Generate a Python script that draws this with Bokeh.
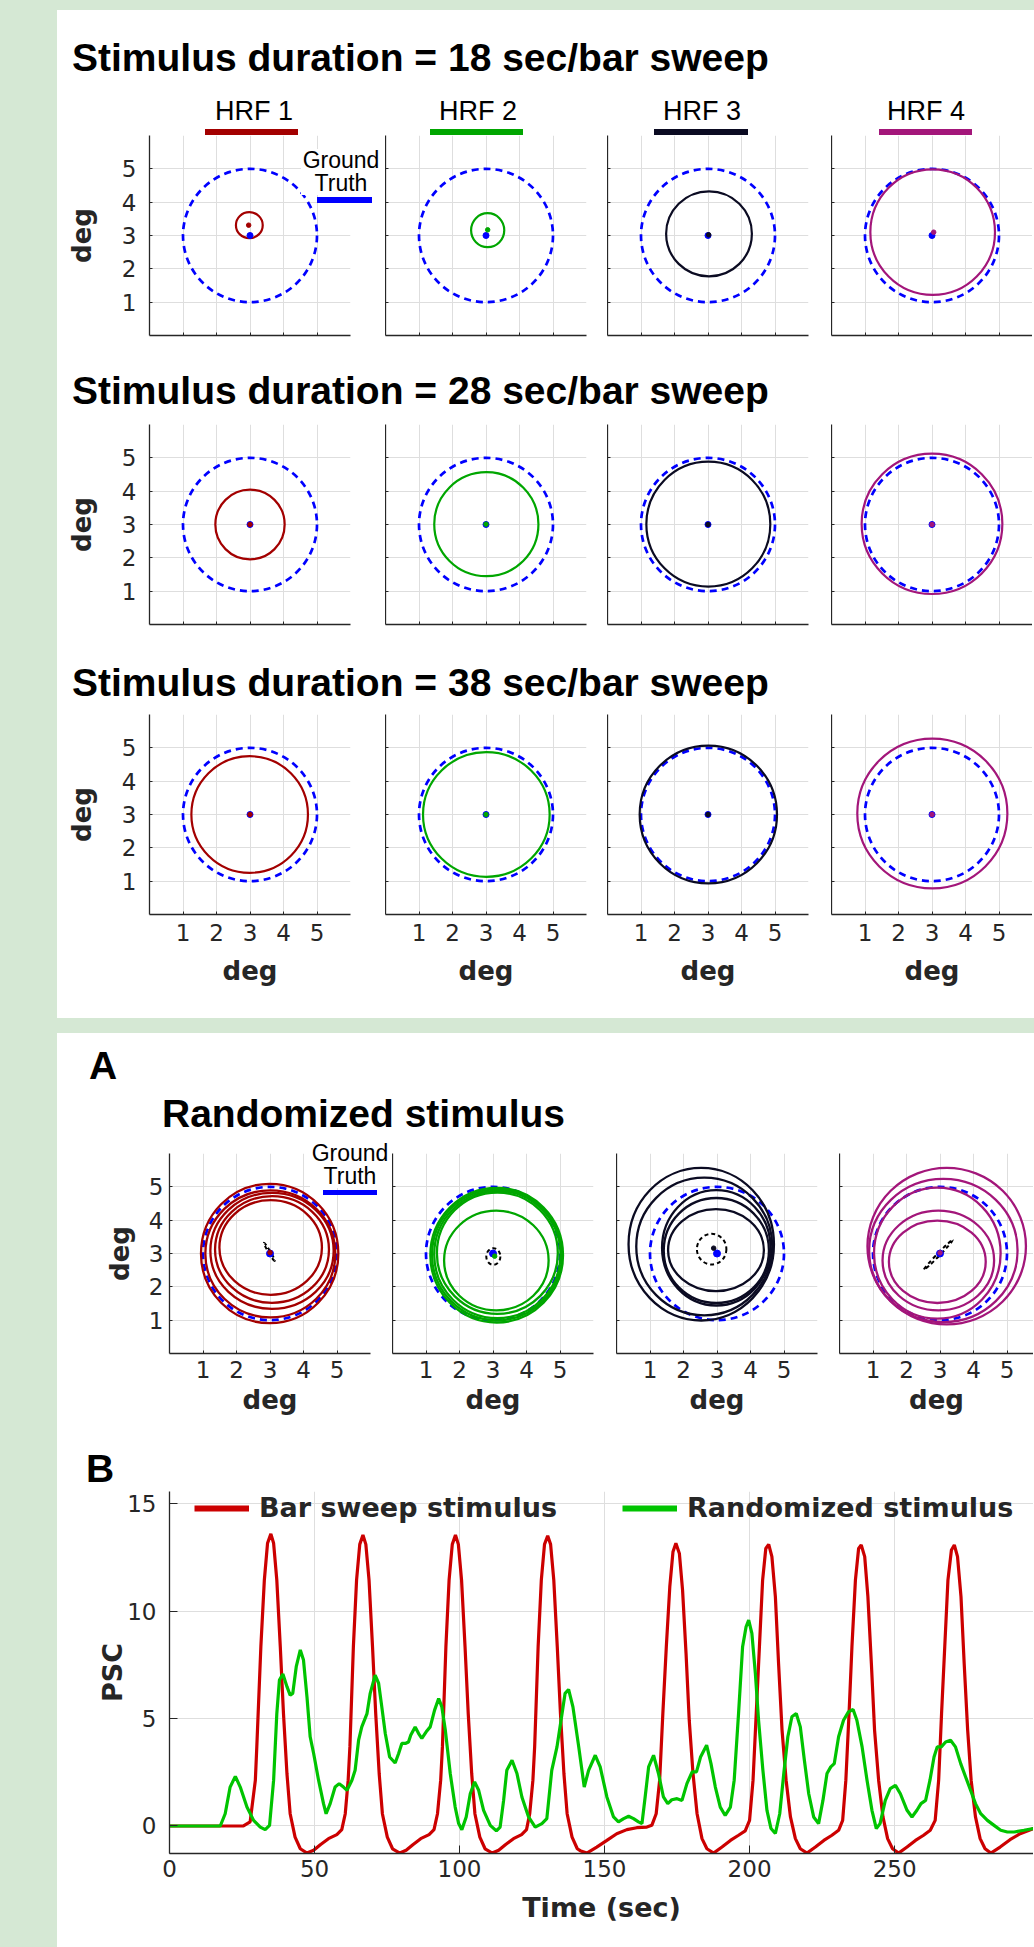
from bokeh.plotting import figure
from bokeh.models import (Range1d, FixedTicker, Legend, LegendItem, Div,
                          Spacer, Row, Column)
from bokeh.embed import file_html
from bokeh.resources import INLINE

# ---------------------------------------------------------------- data
hrf_names = ["HRF 1", "HRF 2", "HRF 3", "HRF 4"]
hrf_colors = ["#A30000", "#00A600", "#0B0B22", "#A3167A"]
gt_color = "#0000FF"
gt_label = ["Ground", "Truth"]
gt_cx, gt_cy, gt_diam = 3.0, 3.0, 4.0

row_titles = ["Stimulus duration = 18 sec/bar sweep",
              "Stimulus duration = 28 sec/bar sweep",
              "Stimulus duration = 38 sec/bar sweep"]
deg_ticks = [1, 2, 3, 4, 5]

# estimated pRF per HRF (centre x, centre y, width, height in deg) + estimated centre
d18_cx = [2.98, 3.05, 3.03, 3.02]
d18_cy = [3.31, 3.16, 3.05, 3.10]
d18_w = [0.80, 0.99, 2.56, 3.72]
d18_h = [0.78, 1.02, 2.55, 3.77]
d18_dx = [2.96, 3.05, 3.02, 3.05]
d18_dy = [3.31, 3.17, 3.02, 3.10]

d28_cx = [3.00, 3.01, 3.01, 3.00]
d28_cy = [3.00, 3.01, 3.01, 3.02]
d28_w = [2.07, 3.11, 3.70, 4.20]
d28_h = [2.09, 3.12, 3.75, 4.21]
d28_dx = [3.00, 3.00, 3.00, 3.00]
d28_dy = [3.00, 3.01, 3.00, 3.00]

d38_cx = [2.99, 3.01, 3.01, 3.01]
d38_cy = [3.00, 3.00, 3.00, 3.03]
d38_w = [3.48, 3.78, 4.10, 4.48]
d38_h = [3.50, 3.74, 4.13, 4.49]
d38_dx = [3.00, 3.00, 3.00, 3.00]
d38_dy = [3.00, 3.00, 3.00, 3.00]

# randomized stimulus: five estimates per HRF
rnd_cx = [[2.99, 3.01, 3.06, 3.06, 3.02],
          [3.11, 3.12, 3.13, 3.13, 3.10],
          [2.53, 2.62, 2.98, 2.98, 2.97],
          [3.20, 3.10, 2.92, 2.95, 2.92]]
rnd_cy = [[3.00, 2.99, 3.08, 3.12, 3.18],
          [2.95, 2.96, 2.97, 3.01, 2.79],
          [3.28, 3.21, 3.17, 3.09, 3.10],
          [3.22, 3.09, 3.01, 2.79, 2.75]]
rnd_w = [[4.10, 3.88, 3.68, 3.40, 3.06],
         [3.96, 3.88, 3.77, 3.61, 3.12],
         [4.34, 4.06, 3.24, 3.14, 2.86],
         [4.73, 4.43, 3.78, 3.33, 2.89]]
rnd_h = [[4.18, 3.81, 3.48, 3.20, 2.84],
         [4.04, 3.93, 3.82, 3.64, 2.99],
         [4.58, 4.13, 3.46, 3.15, 2.46],
         [4.70, 4.30, 3.93, 2.99, 2.47]]
# spread of centre estimates (black dashed ellipse)
spr_cx = [2.98, 3.01, 2.84, 2.95]
spr_cy = [3.05, 2.91, 3.13, 2.96]
spr_w = [0.63, 0.42, 0.88, 1.23]
spr_h = [0.06, 0.50, 0.92, 0.08]
spr_angle = [-1.035, 0.0, 0.0, 0.80]
rnd_dx = [3.00, 3.05, 2.90, 3.00]
rnd_dy = [3.03, 2.92, 3.16, 3.02]

# panel B time courses
bar_t = [0, 10, 20, 25.5, 27.8, 29.6, 30.1, 31.5, 32.7, 33.8, 34.95, 35.9, 37.0, 38.2, 39.3,
         40.5, 41.6, 43.3, 45.1, 47.4, 49.7, 52.0, 54.8, 57.7, 59.4,
         60.6, 61.6, 62.2, 63.4, 64.5, 65.6, 66.7, 67.7, 68.8, 70.0, 71.1, 72.3, 73.4, 75.1,
         76.9, 79.4, 81.6, 83.9, 86.6, 89.5, 91.2,
         92.4, 93.5, 94.1, 95.3, 96.4, 97.5, 98.6, 99.6, 100.7, 101.9, 103.0, 104.2, 105.3,
         107.0, 108.8, 111.3, 113.5, 115.8, 118.6, 121.4, 123.1,
         124.2, 125.3, 125.9, 127.1, 128.2, 129.3, 130.4, 131.4, 132.5, 133.7, 134.8, 136.0,
         137.1, 138.8, 140.6, 141.6, 143.9, 147.3, 150.8, 154.2, 157.7, 161.1, 164.6, 166.3,
         167.8, 169.0, 170.1, 171.3, 172.5, 173.6, 174.6, 175.8, 176.9, 178.1, 179.2, 180.5,
         181.9, 183.6, 185.3, 187.6, 190.5, 193.4, 196.2, 198.5,
         200.0, 201.2, 202.3, 203.4, 204.5, 205.6, 206.6, 207.7, 208.9, 210.0, 211.2, 212.6,
         214.1, 215.8, 217.5, 219.8, 222.7, 225.6, 228.4, 230.7,
         232.1, 233.2, 234.3, 235.3, 236.5, 237.6, 238.5, 239.7, 240.8, 242.0, 243.1, 244.5,
         246.0, 247.6, 249.3, 251.4, 254.3, 257.2, 260.0, 262.3,
         264.0, 265.2, 266.2, 267.3, 268.4, 269.6, 270.6, 271.7, 272.9, 274.0, 275.2, 276.4,
         277.9, 279.5, 281.2, 283.2, 286.4, 289.8, 293.3, 297.9]
bar_psc = [0, 0, 0, 0, 0.19, 2.13, 3.68, 8.34, 11.44, 13.15, 13.59, 13.15, 11.44, 8.34, 5.23,
           2.43, 0.57, -0.52, -1.06, -1.26, -1.13, -0.87, -0.59, -0.40, -0.17,
           0.57, 2.13, 3.68, 8.34, 11.44, 13.10, 13.54, 13.10, 11.44, 8.34, 5.23, 2.43, 0.57, -0.52,
           -1.06, -1.26, -1.13, -0.87, -0.59, -0.40, -0.17,
           0.57, 2.13, 3.68, 8.34, 11.44, 13.10, 13.54, 13.10, 11.44, 8.34, 5.23, 2.43, 0.57,
           -0.52, -1.06, -1.26, -1.13, -0.87, -0.59, -0.40, -0.17,
           0.57, 2.13, 3.68, 8.34, 11.44, 13.10, 13.50, 13.10, 11.44, 8.34, 5.23, 2.43,
           0.57, -0.52, -1.06, -1.15, -1.26, -0.98, -0.67, -0.36, -0.17, -0.08, -0.05, 0.03,
           0.57, 2.13, 5.23, 8.34, 11.13, 12.76, 13.15, 12.68, 10.97, 8.03, 4.92, 2.44,
           0.57, -0.59, -1.06, -1.26, -0.98, -0.67, -0.43, -0.23,
           0.26, 2.13, 5.23, 8.34, 11.44, 12.91, 13.10, 12.53, 10.67, 7.56, 4.46, 2.13,
           0.42, -0.59, -1.06, -1.26, -0.98, -0.67, -0.43, -0.20,
           0.26, 2.13, 5.23, 8.34, 11.44, 12.91, 13.07, 12.53, 10.67, 7.56, 4.46, 2.13,
           0.42, -0.59, -1.06, -1.26, -0.98, -0.67, -0.43, -0.20,
           0.26, 2.13, 5.23, 8.34, 11.44, 12.84, 13.07, 12.53, 10.67, 7.56, 4.46, 2.13,
           0.42, -0.59, -1.06, -1.26, -0.98, -0.64, -0.36, -0.12]

rand_t = [0, 17.5, 19.2, 20.9, 22.7, 24.4, 26.7, 29.0, 31.3, 33.0, 34.5, 35.9, 37.0, 37.9, 39.1,
          40.5, 41.6, 42.5, 43.7, 45.1, 46.2, 47.4, 48.5, 49.7, 51.4, 53.1, 54.0, 55.4, 57.1,
          58.5, 60.0, 61.2, 62.9, 64.0, 65.2, 66.3, 68.1, 69.2, 70.9, 72.1, 73.2, 74.4, 75.9,
          77.8, 79.0, 80.1, 81.3, 82.4, 83.2, 84.7, 85.9, 87.0, 88.5, 89.9, 91.4, 92.8, 93.9,
          95.1, 96.8, 98.5, 99.7, 100.8, 102.3, 103.7, 105.2, 106.6, 108.3, 110.6, 112.7, 114.0,
          115.2, 116.3, 118.1, 119.8, 121.5, 123.8, 126.1, 128.4, 130.1, 131.8, 133.6, 135.0,
          136.4, 137.6, 139.1, 141.1, 143.0, 144.5, 146.8, 148.5, 150.8, 153.1, 154.8, 156.6,
          158.3, 160.0, 161.7, 162.9, 164.0, 165.2, 166.9, 168.6, 170.3, 171.8, 173.2, 175.0,
          176.7, 178.4, 180.2, 181.7, 183.1, 185.2, 186.7, 188.2, 189.9, 191.6, 193.4, 194.7,
          196.2, 197.6, 198.8, 199.7, 200.8, 202.0, 203.1, 204.6, 206.0, 207.4, 208.9, 210.4,
          211.8, 213.2, 214.6, 216.1, 217.5, 218.9, 220.4, 222.1, 223.8, 225.3, 226.7, 228.0,
          229.2, 230.7, 232.4, 234.1, 235.7, 237.0, 238.8, 240.5, 242.2, 243.7, 245.0, 246.8,
          248.5, 250.3, 252.0, 254.3, 256.0, 257.7, 259.1, 260.7, 262.2, 263.6, 264.7, 266.1,
          267.6, 269.3, 271.0, 272.8, 274.5, 276.2, 277.9, 279.7, 282.0, 284.3, 286.6, 288.9,
          291.2, 294.6, 297.9]
rand_psc = [0, 0, 0.57, 1.81, 2.31, 1.81, 0.88, 0.26, -0.05, -0.17, 0.03, 2.13, 5.23, 6.79, 7.07,
            6.48, 6.09, 6.17, 7.41, 8.19, 7.72, 6.01, 4.15, 3.37, 2.13, 1.04, 0.57, 1.04, 1.81,
            1.97, 1.81, 1.66, 2.13, 2.59, 3.99, 4.61, 5.23, 6.17, 7.02, 6.64, 5.54, 4.30, 3.21,
            2.93, 3.37, 3.84, 3.84, 3.91, 4.23, 4.61, 4.30, 4.07, 4.38, 4.61, 5.39, 5.93, 5.54,
            4.46, 2.44, 0.88, 0.11, -0.17, 0.42, 1.50, 2.05, 1.66, 0.73, 0.03, -0.23, -0.05,
            1.19, 2.59, 3.06, 2.44, 1.35, 0.42, -0.05, 0.11, 0.34, 2.59, 3.68, 4.92,
            6.17, 6.35, 5.54, 3.68, 1.81, 2.59, 3.29, 2.75, 1.35, 0.42, 0.19, 0.34,
            0.45, 0.34, 0.19, 0.11, 1.35, 2.75, 3.29, 2.44, 1.35, 1.04, 1.22, 1.27,
            1.19, 1.97, 2.52, 2.52, 3.21, 3.76, 2.90, 1.81, 0.88, 0.49, 0.88, 2.13,
            5.23, 8.34, 9.27, 9.58, 8.96, 7.10, 4.92, 2.59, 0.73, -0.12, -0.35, 0.57,
            2.44, 4.15, 5.08, 5.23, 4.61, 3.06, 1.50, 0.42, 0.11, 1.19, 2.44, 2.75,
            2.90, 4.15, 4.92, 5.31, 5.42, 4.92, 3.68, 2.13, 0.73, -0.12, 0.11, 1.19,
            1.74, 1.89, 1.50, 0.73, 0.42, 0.73, 1.04, 1.19, 2.13, 3.21, 3.68, 3.68,
            3.91, 3.99, 3.68, 2.90, 2.28, 1.66, 1.04, 0.57, 0.26, 0.03, -0.20, -0.28,
            -0.28, -0.20, -0.12]
time_ticks = [0, 50, 100, 150, 200, 250, 300]
psc_ticks = [0, 5, 10, 15]
bar_color = "#CC0000"
rand_color = "#00C400"
legend_labels = ["Bar sweep stimulus", "Randomized stimulus"]

# ---------------------------------------------------------------- helpers
AX = "#262626"
GRID = "#DEDEDE"
NAN = float("nan")


def text_div(txt, w, h, size, bold=False, family="Liberation Sans", align="left"):
    return Div(text=txt, width=w, height=h, margin=0,
               styles={"font-family": family, "font-size": f"{size}px",
                       "font-weight": "bold" if bold else "normal",
                       "line-height": f"{h}px", "text-align": align,
                       "white-space": "nowrap", "color": "black"})


def style_axis(ax, tick_in):
    ax.axis_line_color = AX
    ax.axis_line_width = 1.3
    ax.major_tick_line_color = AX
    ax.major_tick_in = tick_in
    ax.major_tick_out = 0
    ax.minor_tick_line_color = None
    ax.major_label_text_font = "DejaVu Sans"
    ax.major_label_text_font_size = "23px"
    ax.major_label_text_color = AX
    ax.axis_label_text_font = "DejaVu Sans"
    ax.axis_label_text_font_style = "bold"
    ax.axis_label_text_color = AX


def deg_panel(fw, x_end, bl, br, bt, bb, show_y, show_x,
              y_tick_so=13, y_lab_so=22, x_tick_so=9, x_lab_so=12):
    p = figure(frame_width=fw, frame_height=200,
               x_range=Range1d(0, x_end), y_range=Range1d(0, 6),
               min_border_left=bl, min_border_right=br,
               min_border_top=bt, min_border_bottom=bb,
               toolbar_location=None, output_backend="svg",
               outline_line_color=None, background_fill_color="white",
               border_fill_color="white")
    tk = FixedTicker(ticks=deg_ticks)
    p.xaxis.ticker = tk
    p.yaxis.ticker = tk
    p.xgrid.ticker = tk
    p.ygrid.ticker = tk
    p.xgrid.grid_line_color = GRID
    p.ygrid.grid_line_color = GRID
    style_axis(p.xaxis[0], 3)
    style_axis(p.yaxis[0], 3)
    if show_y:
        p.yaxis.major_label_standoff = y_tick_so
        p.yaxis.axis_label = "deg"
        p.yaxis.axis_label_text_font_size = "26px"
        p.yaxis.axis_label_standoff = y_lab_so
    else:
        p.yaxis.major_label_overrides = {t: "" for t in deg_ticks}
        p.yaxis.major_label_standoff = 0
    if show_x:
        p.xaxis.major_label_standoff = x_tick_so
        p.xaxis.axis_label = "deg"
        p.xaxis.axis_label_text_font_size = "26px"
        p.xaxis.axis_label_standoff = x_lab_so
    else:
        p.xaxis.major_label_overrides = {t: "" for t in deg_ticks}
        p.xaxis.major_label_standoff = 0
    # ground truth pRF
    p.ellipse(x=[gt_cx], y=[gt_cy], width=[gt_diam], height=[gt_diam],
              fill_color=None, line_color=gt_color, line_width=2.7, line_dash="7 5")
    return p


def gt_legend_div(left, top, bar_ml, bar_mt, bar_w, bar_h):
    html = ('<div style="width:80px;text-align:center;line-height:23px;background:white;">'
            f'{gt_label[0]}<br>{gt_label[1]}</div>'
            f'<div style="width:{bar_w}px;height:{bar_h}px;margin-left:{bar_ml}px;'
            f'margin-top:{bar_mt}px;background:{gt_color};"></div>')
    return Div(text=html, width=80, height=58, margin=0,
               styles={"position": "absolute", "left": f"{left}px", "top": f"{top}px",
                       "z-index": "10", "font-family": "Liberation Sans",
                       "font-size": "23px", "color": "black", "white-space": "nowrap"})


# ---------------------------------------------------------------- section 1
row_sets = [(d18_cx, d18_cy, d18_w, d18_h, d18_dx, d18_dy),
            (d28_cx, d28_cy, d28_w, d28_h, d28_dx, d28_dy),
            (d38_cx, d38_cy, d38_w, d38_h, d38_dx, d38_dy)]
row_bottoms = [34, 37, 104]
col_left = [92, 0, 0, 0]
col_right = [35, 21, 23, 0]

fig_rows = []
for ri, (cx, cy, w, h, dx, dy) in enumerate(row_sets):
    figs = []
    for ci in range(4):
        p = deg_panel(201, 6, col_left[ci], col_right[ci], 0, row_bottoms[ri],
                      ci == 0, ri == 2)
        p.ellipse(x=[cx[ci]], y=[cy[ci]], width=[w[ci]], height=[h[ci]],
                  fill_color=None, line_color=hrf_colors[ci], line_width=2.2)
        p.scatter(x=[gt_cx], y=[gt_cy], size=6, color=gt_color)
        p.scatter(x=[dx[ci]], y=[dy[ci]], size=4.5, color=hrf_colors[ci])
        figs.append(p)
    fig_rows.append(Row(children=figs, spacing=0))

hdr_labels = Row(children=[Spacer(width=137, height=30),
                           text_div(hrf_names[0], 120, 30, 27, align="center"),
                           Spacer(width=104, height=30),
                           text_div(hrf_names[1], 120, 30, 27, align="center"),
                           Spacer(width=104, height=30),
                           text_div(hrf_names[2], 120, 30, 27, align="center"),
                           Spacer(width=104, height=30),
                           text_div(hrf_names[3], 120, 30, 27, align="center")], spacing=0)


def bar_div(color, w):
    return Div(text="", width=w, height=6, margin=0, styles={"background-color": color})


hdr_bars = Row(children=[Spacer(width=148, height=6), bar_div(hrf_colors[0], 93),
                         Spacer(width=132, height=6), bar_div(hrf_colors[1], 93),
                         Spacer(width=131, height=6), bar_div(hrf_colors[2], 94),
                         Spacer(width=131, height=6), bar_div(hrf_colors[3], 93)], spacing=0)


def title_row(txt, left, w=820, size=39):
    return Row(children=[Spacer(width=left, height=44), text_div(txt, w, 44, size, bold=True)],
               spacing=0)


section1 = Column(children=[
    Spacer(width=977, height=26),
    title_row(row_titles[0], 15),
    Spacer(width=10, height=16),
    hdr_labels,
    Spacer(width=10, height=3),
    hdr_bars,
    fig_rows[0],
    title_row(row_titles[1], 15),
    Spacer(width=10, height=11),
    fig_rows[1],
    title_row(row_titles[2], 15),
    Spacer(width=10, height=9),
    fig_rows[2],
    gt_legend_div(244, 139, 16, 2, 55, 6),
], spacing=0, width=977, height=1008, styles={"background-color": "white"})

# ---------------------------------------------------------------- section 2 (A)
a_left = [112, 0, 0, 0]
a_right = [22, 23, 22, 0]
a_fw = [201, 201, 201, 194]
a_figs = []
for ci in range(4):
    p = deg_panel(a_fw[ci], a_fw[ci] / 33.5, a_left[ci], a_right[ci], 17, 94,
                  ci == 0, True, y_tick_so=6, y_lab_so=11, x_tick_so=7, x_lab_so=4)
    p.ellipse(x=rnd_cx[ci], y=rnd_cy[ci], width=rnd_w[ci], height=rnd_h[ci],
              fill_color=None, line_color=hrf_colors[ci], line_width=2.3)
    p.ellipse(x=[spr_cx[ci]], y=[spr_cy[ci]], width=[spr_w[ci]], height=[spr_h[ci]],
              angle=[spr_angle[ci]], fill_color=None, line_color="black",
              line_width=2, line_dash="4 3")
    p.scatter(x=[gt_cx], y=[gt_cy], size=7, color=gt_color)
    p.scatter(x=[rnd_dx[ci]], y=[rnd_dy[ci]], size=4.5, color=hrf_colors[ci])
    a_figs.append(p)
a_row = Row(children=a_figs, spacing=0)

# ---------------------------------------------------------------- section 2 (B)
pb = figure(frame_width=864, frame_height=362,
            x_range=Range1d(0, 297.9), y_range=Range1d(-1.28, 15.56),
            min_border_left=112, min_border_right=0, min_border_top=0, min_border_bottom=94,
            toolbar_location=None, output_backend="svg", outline_line_color=None,
            background_fill_color="white", border_fill_color="white")
pb.xaxis.ticker = FixedTicker(ticks=time_ticks)
pb.yaxis.ticker = FixedTicker(ticks=psc_ticks)
pb.xgrid.grid_line_color = GRID
pb.ygrid.grid_line_color = GRID
style_axis(pb.xaxis[0], 8)
style_axis(pb.yaxis[0], 8)
pb.xaxis.major_label_standoff = 6
pb.yaxis.major_label_standoff = 13
pb.xaxis.axis_label = "Time (sec)"
pb.yaxis.axis_label = "PSC"
pb.xaxis.axis_label_text_font_size = "27px"
pb.yaxis.axis_label_text_font_size = "27px"
pb.xaxis.axis_label_standoff = 12
pb.yaxis.axis_label_standoff = -4
pb.line(bar_t, bar_psc, line_color=bar_color, line_width=3.2)
pb.line(rand_t, rand_psc, line_color=rand_color, line_width=3.2)
# legend-only renderers (thick swatches, nothing drawn in the plot)
leg_r = pb.line(x=[NAN], y=[NAN], line_color=bar_color, line_width=6)
leg_g = pb.line(x=[NAN], y=[NAN], line_color=rand_color, line_width=6)
legend_b = Legend(items=[LegendItem(label=legend_labels[0], renderers=[leg_r]),
                         LegendItem(label=legend_labels[1], renderers=[leg_g])],
                  orientation="horizontal", location=(25, 330),
                  glyph_width=55, glyph_height=20, label_standoff=10, spacing=65,
                  padding=0, margin=0, border_line_color=None, background_fill_alpha=0,
                  label_text_font="DejaVu Sans", label_text_font_style="bold",
                  label_text_font_size="27px", label_text_color=AX)
pb.add_layout(legend_b)

section2 = Column(children=[
    Spacer(width=977, height=11),
    Row(children=[Spacer(width=32, height=44), text_div("A", 60, 44, 39, bold=True)], spacing=0),
    Spacer(width=10, height=4),
    title_row("Randomized stimulus", 105, w=520),
    a_row,
    Row(children=[Spacer(width=29, height=44), text_div("B", 60, 44, 39, bold=True)], spacing=0),
    pb,
    gt_legend_div(253, 109, 13, 2, 54, 5),
], spacing=0, width=977, height=914, styles={"background-color": "white"})

root = Column(children=[
    Spacer(width=1034, height=10),
    Row(children=[Spacer(width=57, height=1008), section1], spacing=0),
    Spacer(width=1034, height=15),
    Row(children=[Spacer(width=57, height=914), section2], spacing=0),
], spacing=0, width=1034, height=1947, styles={"background-color": "#D5E8D4"})

open("out.html", "w").write(file_html(root, INLINE))
